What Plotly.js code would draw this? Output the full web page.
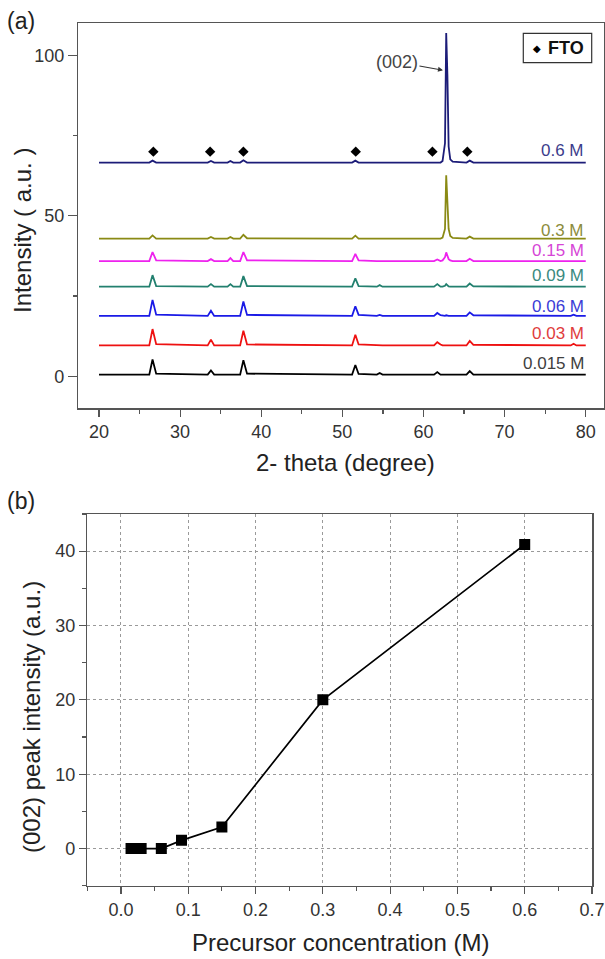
<!DOCTYPE html>
<html>
<head>
<meta charset="utf-8">
<script src="https://cdn.plot.ly/plotly-3.0.1.min.js"></script>
<style>
  html, body { margin: 0; padding: 0; background: #fff; }
  #chart { width: 605px; height: 959px; }
</style>
</head>
<body>
<div id="chart"></div>
<script>
// ---------- DATA ----------
// (a) XRD patterns: shared 2-theta grid (degree)
const theta = [20, 26.2, 26.6, 27.05, 33.4, 33.8, 34.2, 35.85, 36.2, 36.55, 37.4, 37.8, 38.25,
  51.2, 51.6, 52.0, 54.25, 54.6, 54.95, 61.3, 61.7, 62.1, 62.35, 62.65, 62.8, 62.95, 63.1,
  63.3, 63.6, 65.3, 65.7, 66.15, 78.15, 78.5, 78.85, 80];

const seriesNames = ["0.015 M", "0.03 M", "0.06 M", "0.09 M", "0.15 M", "0.3 M", "0.6 M"];
const seriesOffsets = [0.5, 9.6, 18.8, 27.9, 35.9, 42.9, 66.6];

const int_0015 = [0, 0, 4.7, 0.3, 0, 1.3, 0, 0, 0, 0, 0, 4.5, 0.3, 0, 3.0, 0.2, 0, 0.5, 0, 0, 0.8, 0, 0, 0, 0, 0, 0, 0, 0, 0, 1.1, 0, 0, 0, 0, 0];
const int_003  = [0, 0, 5.1, 0.4, 0, 1.8, 0, 0, 0, 0, 0, 4.6, 0.3, 0, 3.3, 0.3, 0, 0, 0, 0, 1.0, 0.3, 0, 0, 0, 0, 0, 0, 0, 0, 1.4, 0.2, 0, 0.5, 0, 0];
const int_006  = [0, 0, 5.0, 0.4, 0, 1.6, 0, 0, 0, 0, 0, 4.5, 0.3, 0, 3.0, 0.3, 0, 0.3, 0, 0, 0.9, 0.2, 0, 0, 0.2, 0, 0, 0, 0, 0, 1.1, 0.2, 0, 0.4, 0, 0];
const int_009  = [0, 0, 3.6, 0.2, 0, 0.8, 0, 0, 0.8, 0, 0, 3.3, 0.2, 0, 2.6, 0.2, 0, 0.5, 0, 0, 0.8, 0, 0, 0.3, 0.8, 0.4, 0.1, 0, 0, 0, 1.0, 0.1, 0, 0, 0, 0];
const int_015  = [0, 0, 2.8, 0.2, 0, 0.6, 0, 0, 0.9, 0, 0, 2.8, 0.2, 0, 2.2, 0.2, 0, 0, 0, 0, 0.5, 0, 0.2, 1.2, 2.7, 1.6, 0.6, 0.2, 0, 0, 0.7, 0, 0, 0, 0, 0];
const int_03   = [0, 0, 1.0, 0, 0, 0.5, 0, 0, 0.5, 0, 0, 1.2, 0.1, 0, 0.9, 0, 0, 0, 0, 0, 0, 0, 0.3, 3.0, 19.7, 13.0, 3.0, 0.8, 0.2, 0, 0.6, 0, 0, 0, 0, 0];
const int_06   = [0, 0, 0.6, 0, 0, 0.5, 0, 0, 0.5, 0, 0, 0.7, 0, 0, 0.6, 0, 0, 0, 0, 0, 0, 0, 0.5, 6.0, 40.4, 27.0, 5.0, 1.0, 0.3, 0, 0.6, 0, 0, 0, 0, 0];
const seriesIntensity = [int_0015, int_003, int_006, int_009, int_015, int_03, int_06];

// FTO reflections marked on the 0.6 M pattern
const ftoTheta = [26.7, 33.7, 37.8, 51.65, 61.1, 65.4];
const ftoLevel = [70, 70, 70, 70, 70, 70];

// (b) (002) peak intensity vs precursor concentration
const concentration = [0.015, 0.03, 0.06, 0.09, 0.15, 0.3, 0.6];
const peak002 = [0, 0, 0, 1.1, 2.9, 20.0, 40.9];

// ---------- STYLE ----------
const W = 605, H = 959;
const FONT = "Liberation Sans, Arial, Helvetica, sans-serif";
const lineColors  = ["#000000", "#ee1111", "#1a1ae6", "#23806f", "#ee22ee", "#8a8a14", "#1c1c78"];
const labelColors = ["#404040", "#e03c3c", "#3b3bd6", "#3a8a80", "#d645d6", "#8c8c3c", "#3c3c8c"];
const labelLift = [3.4, 3.6, 3.0, 3.4, 3.4, 2.6, 3.8];
const px = v => v / W;
const py = v => 1 - v / H;

const traces = [];
seriesNames.forEach((name, i) => {
  traces.push({
    type: "scatter", mode: "lines", name: name,
    x: theta,
    y: seriesIntensity[i].map(v => v + seriesOffsets[i]),
    line: { color: lineColors[i], width: 1.8 },
    xaxis: "x", yaxis: "y", hoverinfo: "skip"
  });
});
traces.push({
  type: "scatter", mode: "markers", name: "FTO",
  x: ftoTheta, y: ftoLevel,
  marker: { symbol: "diamond", size: 8, color: "#000" },
  xaxis: "x", yaxis: "y"
});
traces.push({
  type: "scatter", mode: "lines+markers", name: "(002)",
  x: concentration, y: peak002,
  line: { color: "#000", width: 1.7 },
  marker: { symbol: "square", size: 11, color: "#000" },
  xaxis: "x2", yaxis: "y2"
});

const axisCommon = {
  showline: true, mirror: true, linecolor: "#555", linewidth: 1.5,
  ticks: "outside", tickcolor: "#555", tickwidth: 1.2,
  zeroline: false, tickfont: { family: FONT, size: 18, color: "#333" }
};

const annotations = [];
seriesNames.forEach((name, i) => {
  annotations.push({
    xref: "x", yref: "y", x: 80, y: seriesOffsets[i] + labelLift[i],
    xanchor: "right", yanchor: "middle", showarrow: false,
    text: name, font: { family: FONT, size: 17, color: labelColors[i] }
  });
});
annotations.push({
  xref: "x", yref: "y", x: 62.4, y: 95.4, ax: -46, ay: -8,
  text: "(002)", showarrow: true, arrowhead: 2, arrowsize: 0.9, arrowwidth: 1.1,
  arrowcolor: "#333", standoff: 0, font: { family: FONT, size: 18, color: "#444" }
});
// legend box
annotations.push({ xref: "paper", yref: "paper", x: px(537), y: py(48), xanchor: "center", yanchor: "middle",
  text: "◆", showarrow: false, font: { family: "DejaVu Sans", size: 10, color: "#000" } });
annotations.push({ xref: "paper", yref: "paper", x: px(546), y: py(48), xanchor: "left", yanchor: "middle",
  text: "<b>FTO</b>", showarrow: false, font: { family: FONT, size: 18, color: "#111" } });
// panel labels and axis titles
const txt = (x, y, t, size, angle) => ({ xref: "paper", yref: "paper", x: px(x), y: py(y),
  text: t, showarrow: false, textangle: angle || 0, xanchor: "center", yanchor: "middle",
  font: { family: FONT, size: size, color: "#222" } });
annotations.push(txt(21, 21, "(a)", 23));
annotations.push(txt(21, 501, "(b)", 23));
annotations.push(txt(345, 463, "2- theta (degree)", 24));
annotations.push(txt(22, 231, "Intensity ( a.u. )", 24, -90));
annotations.push(txt(31, 717, "(002) peak intensity (a.u.)", 24, -90));
annotations.push(txt(340, 942, "Precursor concentration (M)", 24));

const layout = {
  width: W, height: H, margin: { l: 0, r: 0, t: 0, b: 0 },
  paper_bgcolor: "#fff", plot_bgcolor: "#fff", showlegend: false,
  font: { family: FONT, color: "#333" },
  xaxis: Object.assign({}, axisCommon, {
    domain: [px(78.3), px(604)], range: [17.45, 82.25], anchor: "y",
    tick0: 0, dtick: 10, ticklen: 7, showgrid: false,
    minor: { dtick: 5, ticks: "outside", ticklen: 4, tickcolor: "#555", showgrid: false }
  }),
  yaxis: Object.assign({}, axisCommon, {
    domain: [py(408.3), py(23.3)], range: [-10, 110], anchor: "x",
    tick0: 0, dtick: 50, ticklen: 9, showgrid: false,
    minor: { dtick: 25, ticks: "outside", ticklen: 4, tickcolor: "#555", showgrid: false }
  }),
  xaxis2: Object.assign({}, axisCommon, {
    domain: [px(87.3), px(592)], range: [-0.05, 0.7], anchor: "y2",
    tick0: 0, dtick: 0.1, tickformat: ".1f", ticklen: 7,
    showgrid: true, gridcolor: "#9a9a9a", griddash: "dot", gridwidth: 1,
    minor: { dtick: 0.05, ticks: "outside", ticklen: 4, tickcolor: "#555", showgrid: false }
  }),
  yaxis2: Object.assign({}, axisCommon, {
    domain: [py(885.7), py(514)], range: [-5, 45], anchor: "x2",
    tick0: 0, dtick: 10, ticklen: 7,
    showgrid: true, gridcolor: "#9a9a9a", griddash: "dot", gridwidth: 1,
    minor: { dtick: 5, ticks: "outside", ticklen: 4, tickcolor: "#555", showgrid: false }
  }),
  shapes: [{ type: "rect", xref: "paper", yref: "paper",
    x0: px(523.3), x1: px(591.7), y0: py(62.7), y1: py(33.3),
    line: { color: "#333", width: 1.2 }, fillcolor: "rgba(0,0,0,0)" }],
  annotations: annotations
};

Plotly.newPlot("chart", traces, layout, { staticPlot: true, displayModeBar: false });
</script>
</body>
</html>
